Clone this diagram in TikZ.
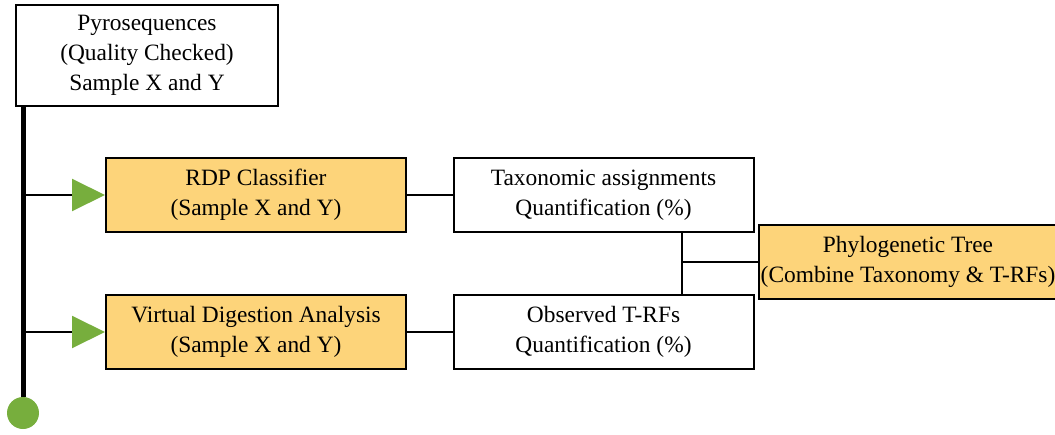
\documentclass[tikz,border=0pt]{standalone}
\usepackage{fontspec}
\setmainfont{Liberation Serif}
\usetikzlibrary{arrows.meta,positioning,calc}

\definecolor{boxorange}{RGB}{253,212,122}
\definecolor{leafgreen}{RGB}{119,174,61}

\tikzset{
    stagebox/.style={draw,line width=1pt,rectangle,align=center,minimum width=150pt,minimum height=37pt,
        font=\fontsize{11.7}{15}\selectfont,inner xsep=1pt,inner ysep=0pt},
    toolbox/.style={stagebox,fill=boxorange},
    spine/.style={line width=2.5pt},
    link/.style={line width=1pt},
    feed/.style={link,-{Triangle[length=16.5pt,width=16pt,color=leafgreen]}}
}

\begin{document}
\begin{tikzpicture}[x=0.5pt,y=-0.5pt]
        \useasboundingbox (0,0) rectangle (1055,434);

        % Input box
        \node[stagebox,minimum width=131pt,minimum height=50.5pt] (pyro) at (147,55.5) {Pyrosequences\\(Quality Checked)\\Sample X and Y};

        % Tool boxes
        \node[toolbox] (rdp) at (256,195) {RDP Classifier\\(Sample X and Y)};
        \node[toolbox] (vda) at (256,332) {Virtual Digestion Analysis\\(Sample X and Y)};

        % Result boxes
        \node[stagebox] (tax) at (603.5,195) {Taxonomic assignments\\Quantification (\%)};
        \node[stagebox] (obs) at (603.5,332) {Observed T-RFs\\Quantification (\%)};

        % Combined box
        \node[toolbox,minimum width=147pt] (phylo) at (908,262) {Phylogenetic Tree\\(Combine Taxonomy \& T-RFs)};

        % End point and join point
        \node[circle,fill=leafgreen,minimum size=16pt,inner sep=0pt] (stop) at (23,413) {};
        \coordinate (join) at (682,262);

        % Main line
        \draw[spine] (pyro.south west -| stop) -- (stop);

        % Branches to the tools
        \draw[feed] (stop |- rdp) -- (rdp.west);
        \draw[feed] (stop |- vda) -- (vda.west);

        % Tools to results
        \draw[link] (rdp) -- (tax);
        \draw[link] (vda) -- (obs);

        % Results to the tree
        \draw[link] (join |- tax.south) -- (join |- obs.north);
        \draw[link] (join) -- (phylo.west);
    \end{tikzpicture}
\end{document}
